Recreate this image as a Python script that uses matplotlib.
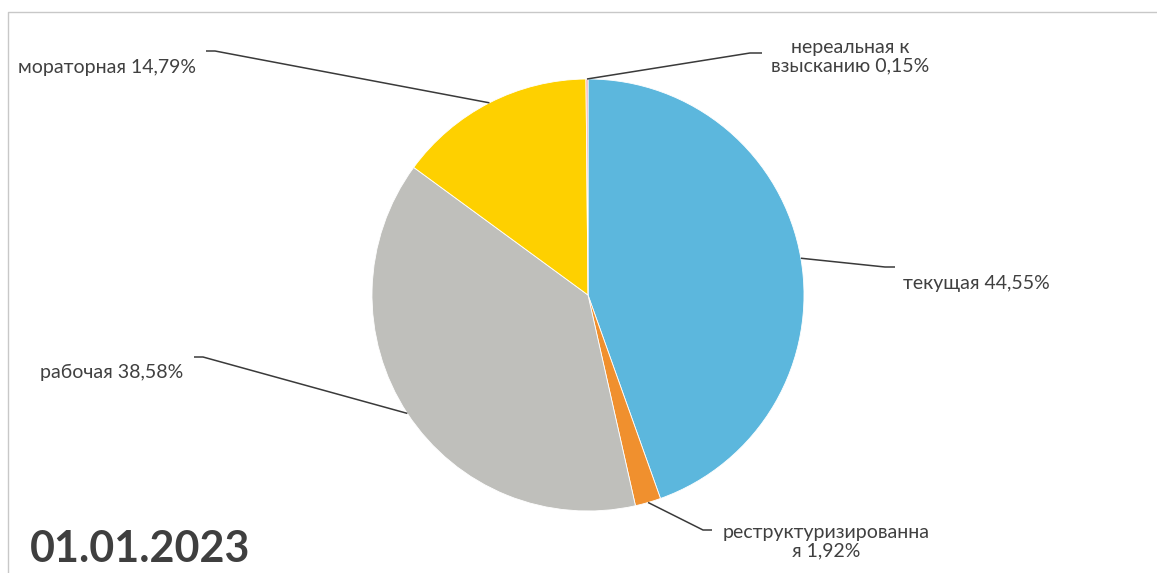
import numpy as np
import matplotlib
matplotlib.use("Agg")
import matplotlib.pyplot as plt

# data
labels = ["текущая", "реструктуризированна\nя", "рабочая", "мораторная", "нереальная к\nвзысканию"]
values = [44.55, 1.92, 38.58, 14.79, 0.15]
colors = ["#5cb7dd", "#f0902e", "#bfbfbb", "#fed000", "#f4a0a8"]
date_text = "01.01.2023"

# layout in pixel coords (y measured from top, converted below)
W, H = 1157, 573
cx, cy, R = 588, 295, 216
# (text x, text y, ha, leader elbow x, leader elbow y, leader end x)
label_pos = [
    (903, 283, "left", 885, 267, 895),
    (826, 542, "center", 703, 530, 712),
    (183, 372, "right", 203, 357, 194),
    (196, 68, "right", 215, 51, 206),
    (850, 57, "center", 750, 53, 762),
]

plt.rcParams['font.family'] = ['Lato', 'DejaVu Sans']

fig = plt.figure(figsize=(W / 100, H / 100), dpi=100)
ax = fig.add_axes([0, 0, 1, 1])

def fy(y):
    return H - y

wedges, _ = ax.pie(values, colors=colors, startangle=90, counterclock=False,
                   center=(cx, fy(cy)), radius=R, frame=True,
                   wedgeprops=dict(edgecolor='white', linewidth=0.6))
ax.set_xlim(0, W)
ax.set_ylim(0, H)
ax.set_aspect('equal')
ax.axis('off')

for w, lab, v, pos in zip(wedges, labels, values, label_pos):
    tx, ty, ha, ex, ey, endx = pos
    mid = np.deg2rad((w.theta1 + w.theta2) / 2)
    px = cx + R * np.cos(mid)
    py = fy(cy) + R * np.sin(mid)
    ax.plot([px, ex, endx], [py, fy(ey), fy(ey)], color='#3a3a3a', lw=1.1,
            solid_capstyle='butt')
    txt = lab + " " + ("%.2f" % v).replace(".", ",") + "%"
    ax.text(tx, fy(ty), txt, ha=ha, va='center', fontsize=14,
            color='#404040', linespacing=1.1, multialignment='center')

ax.text(30, fy(549), date_text, ha='left', va='center', fontsize=31,
        fontweight='bold', color='#3f3f3f')

# frame
ax.plot([8, 8, W], [0, fy(12), fy(12)], color='#c8c8c8', lw=1)

fig.savefig("out.png", dpi=100)
